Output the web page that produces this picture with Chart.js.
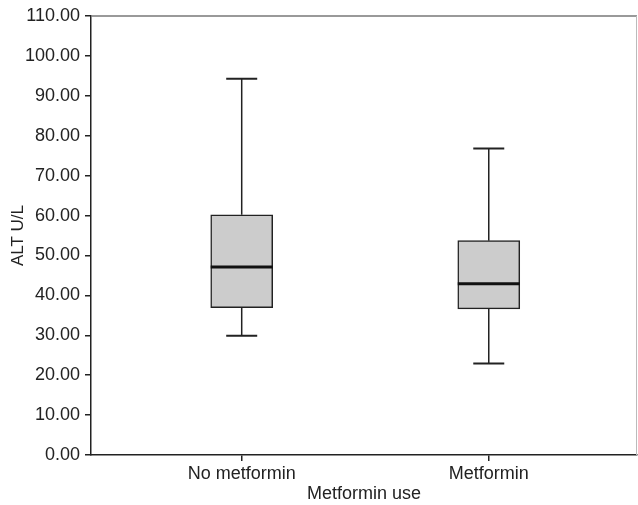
<!DOCTYPE html>
<html lang="en">
<head>
    <meta charset="UTF-8">
    <title>ALT by metformin use</title>
    <script src="https://cdn.jsdelivr.net/npm/chart.js"></script>
    <style>
        html, body { margin: 0; padding: 0; background: #fff; }
        #wrap { width: 638px; height: 505px; }
    </style>
</head>
<body>
    <div id="wrap"><canvas id="altChart"></canvas></div>
    <script>
        // box plot data
        const categories = ['No metformin', 'Metformin'];
        const whiskerLow = [29.9, 22.9];
        const q1 = [36.9, 36.6];
        const median = [47.1, 42.9];
        const q3 = [60.2, 53.7];
        const whiskerHigh = [94.3, 76.8];
        const yTicks = [0, 10, 20, 30, 40, 50, 60, 70, 80, 90, 100, 110];

        const ink = '#222';
        const font = { family: '"Liberation Sans", Arial, Helvetica, sans-serif', size: 18 };

        const boxes = categories.map((c, i) => ({ x: i + 1, y: [q1[i], q3[i]] }));

        // whiskers, caps, medians and the frame
        const boxPlotExtras = {
            id: 'boxPlotExtras',
            afterDatasetsDraw(chart) {
                const ctx = chart.ctx;
                const xs = chart.scales.x, ys = chart.scales.y;
                const area = chart.chartArea;
                ctx.save();
                // top / right frame
                ctx.lineWidth = 1.5;
                ctx.strokeStyle = '#777';
                ctx.beginPath();
                ctx.moveTo(area.left, area.top);
                ctx.lineTo(area.right, area.top);
                ctx.stroke();
                ctx.strokeStyle = '#bbb';
                ctx.lineWidth = 1;
                ctx.beginPath();
                ctx.moveTo(area.right - 0.5, area.top);
                ctx.lineTo(area.right - 0.5, area.bottom);
                ctx.stroke();

                const meta = chart.getDatasetMeta(0);
                categories.forEach((c, i) => {
                    const x = xs.getPixelForValue(i + 1);
                    const bw = meta.data[i].width;
                    const cap = bw / 4;
                    ctx.strokeStyle = ink;
                    ctx.lineWidth = 1.5;
                    ctx.beginPath();
                    ctx.moveTo(x, ys.getPixelForValue(q3[i]));
                    ctx.lineTo(x, ys.getPixelForValue(whiskerHigh[i]));
                    ctx.moveTo(x, ys.getPixelForValue(q1[i]));
                    ctx.lineTo(x, ys.getPixelForValue(whiskerLow[i]));
                    ctx.stroke();
                    ctx.lineWidth = 2;
                    ctx.beginPath();
                    ctx.moveTo(x - cap, ys.getPixelForValue(whiskerHigh[i]));
                    ctx.lineTo(x + cap, ys.getPixelForValue(whiskerHigh[i]));
                    ctx.moveTo(x - cap, ys.getPixelForValue(whiskerLow[i]));
                    ctx.lineTo(x + cap, ys.getPixelForValue(whiskerLow[i]));
                    ctx.stroke();
                    ctx.lineWidth = 3;
                    ctx.strokeStyle = '#111';
                    ctx.beginPath();
                    ctx.moveTo(x - bw / 2, ys.getPixelForValue(median[i]));
                    ctx.lineTo(x + bw / 2, ys.getPixelForValue(median[i]));
                    ctx.stroke();
                });
                ctx.restore();
            }
        };

        new Chart(document.getElementById('altChart'), {
            type: 'bar',
            data: {
                datasets: [{
                    data: boxes,
                    backgroundColor: '#cccccc',
                    borderColor: ink,
                    borderWidth: 1.5,
                    borderSkipped: false,
                    barThickness: 62
                }]
            },
            options: {
                responsive: true,
                maintainAspectRatio: false,
                animation: false,
                layout: { padding: { top: 16, right: 1, left: 0, bottom: 0 } },
                plugins: { legend: { display: false }, tooltip: { enabled: false } },
                scales: {
                    x: {
                        type: 'linear',
                        min: 0.39,
                        max: 2.6,
                        offset: false,
                        afterBuildTicks(scale) { scale.ticks = categories.map((c, i) => ({ value: i + 1 })); },
                        afterFit(scale) { scale.height = 50; },
                        ticks: {
                            autoSkip: false,
                            maxRotation: 0,
                            color: ink,
                            font: font,
                            padding: 2,
                            callback: v => categories[v - 1]
                        },
                        grid: { display: true, offset: false, drawOnChartArea: false, drawTicks: true, tickLength: 6, color: ink, lineWidth: 1.5 },
                        border: { display: true, color: ink, width: 1.5 },
                        title: { display: true, text: 'Metformin use', color: ink, font: font, padding: { top: 0, bottom: 0 } }
                    },
                    y: {
                        min: 0,
                        max: 110,
                        afterBuildTicks(scale) { scale.ticks = yTicks.map(v => ({ value: v })); },
                        afterFit(scale) { scale.width = 91; },
                        ticks: {
                            color: ink,
                            font: font,
                            padding: 5,
                            callback: v => v.toFixed(2)
                        },
                        grid: { display: true, drawOnChartArea: false, drawTicks: true, tickLength: 6, color: ink, lineWidth: 1.5 },
                        border: { display: true, color: ink, width: 1.5 },
                        title: { display: true, text: 'ALT U/L', color: ink, font: { family: font.family, size: 17 }, padding: { top: 8, bottom: 0 } }
                    }
                }
            },
            plugins: [boxPlotExtras]
        });
    </script>
</body>
</html>
